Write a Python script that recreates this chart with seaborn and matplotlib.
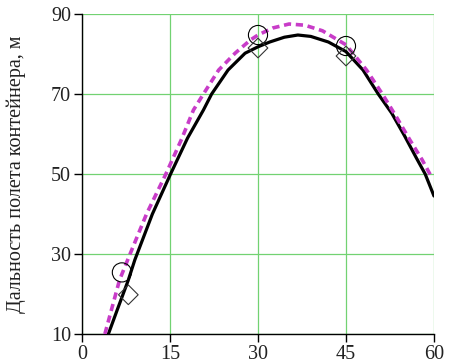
import pandas as pd
import matplotlib
matplotlib.use('Agg')
import matplotlib.pyplot as plt
import seaborn as sns

# Curve: solid black (calculation)
calc_x = [4.5, 6, 7.9, 9, 12, 15.1, 18, 20.7, 22.1, 24.9, 27.8, 30, 32, 34.5, 36.8,
          39, 42, 45, 47.9, 50.5, 52.8, 55, 57, 58.5, 60]
calc_y = [10, 16, 23.5, 28.5, 40, 50, 59, 66, 70, 76, 80.2, 81.8, 83, 84.2, 84.75,
          84.4, 83, 80.6, 76, 70, 65.2, 59.5, 54, 50, 44.5]

# Dashed magenta curve
alt_x = [3.9, 6.4, 8, 11, 14.3, 17, 19, 20.7, 23.3, 26.1, 28.7, 30, 32.5, 35.3,
         38, 41, 45, 48.5, 51.2, 53.5, 55.9, 58, 59.6]
alt_y = [10, 23.5, 29.3, 40, 50, 58.8, 66, 70, 76, 80.2, 83.5, 84.75, 86.5, 87.5,
         87.2, 85.8, 82.3, 76, 70, 64.5, 58.5, 53.5, 49.2]

# Experimental points
circ_x = [6.8, 30, 45]
circ_y = [25.4, 84.75, 82]
diam_x = [7.9, 30, 45]
diam_y = [19.8, 81.5, 79.5]

x_ticks = [0, 15, 30, 45, 60]
y_ticks = [10, 30, 50, 70, 90]
ylabel = 'Дальность полета контейнера, м'

sns.set_style('white')
plt.rcParams['font.family'] = ['Liberation Serif', 'DejaVu Serif']

fig = plt.figure(figsize=(4.54, 3.63), dpi=100)
ax = fig.add_axes([0.1806, 0.0799, 0.7753, 0.8815])

calc = pd.DataFrame({'x': calc_x, 'y': calc_y})
alt = pd.DataFrame({'x': alt_x, 'y': alt_y})

sns.lineplot(data=alt, x='x', y='y', sort=False, estimator=None, ax=ax,
             color='#c83cc8', linewidth=2.6, linestyle=(0, (2.0, 1.3)), zorder=4)
sns.lineplot(data=calc, x='x', y='y', sort=False, estimator=None, ax=ax,
             color='black', linewidth=2.3, zorder=3)
sns.scatterplot(x=circ_x, y=circ_y, ax=ax, marker='o', s=190,
                facecolor='none', edgecolor='black', linewidth=0.8, zorder=5)
sns.scatterplot(x=diam_x, y=diam_y, ax=ax, marker='D', s=100,
                facecolor='none', edgecolor='#333333', linewidth=0.8, zorder=5)

ax.set_xlim(0, 60)
ax.set_ylim(10, 90)
ax.set_xticks(x_ticks)
ax.set_yticks(y_ticks)
ax.grid(True, color='#72d272', linewidth=0.9)
ax.set_axisbelow(True)
for s in ['top', 'right']:
    ax.spines[s].set_visible(False)
for s in ['left', 'bottom']:
    ax.spines[s].set_color('black')
    ax.spines[s].set_linewidth(1.0)
ax.tick_params(direction='out', length=6, width=1, color='black',
               labelsize=14.5, labelcolor='#222222', left=True, bottom=True, pad=2)
ax.set_xlabel('')
ax.set_ylabel(ylabel, fontsize=14.5, color='#222222', labelpad=18)

fig.savefig('out.png', dpi=100)
